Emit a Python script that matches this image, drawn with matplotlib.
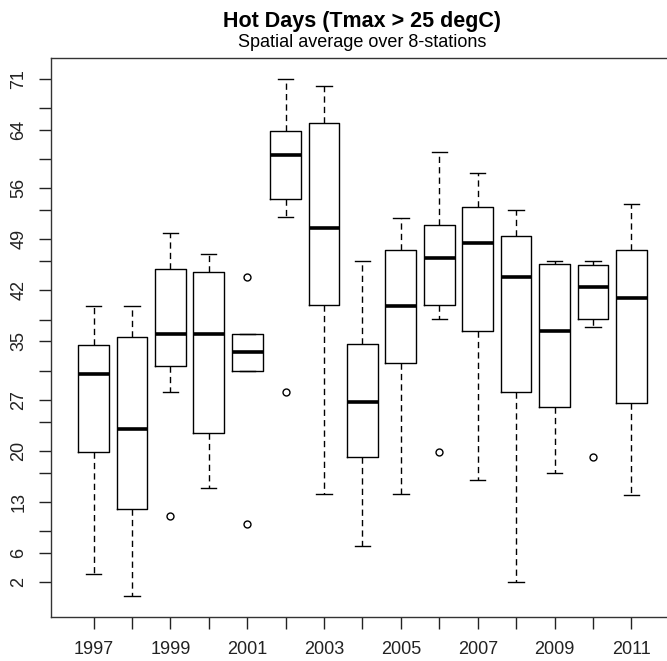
import matplotlib
matplotlib.use("Agg")
import matplotlib.pyplot as plt

plt.rcParams['font.family'] = ['Liberation Sans', 'DejaVu Sans']

# box statistics (days)
years = [1997, 1998, 1999, 2000, 2001, 2002, 2003, 2004, 2005, 2006, 2007, 2008, 2009, 2010, 2011]
whislo = [3.1, 0.1, 28.0, 14.9, 31.0, 52.1, 14.1, 7.0, 14.1, 38.1, 16.0, 2.0, 17.0, 37.0, 14.0]
q1 = [19.9, 12.0, 31.7, 22.5, 31.0, 54.6, 40.0, 19.1, 32.0, 40.0, 36.4, 28.1, 26.0, 38.1, 26.5]
med = [30.5, 23.0, 36.0, 36.0, 33.5, 60.6, 50.6, 26.7, 39.9, 46.4, 48.5, 43.9, 36.4, 42.5, 41.0]
q3 = [34.5, 35.6, 44.9, 44.5, 36.0, 63.9, 65.0, 34.6, 47.5, 51.0, 53.5, 49.5, 45.6, 45.5, 47.5]
whishi = [39.9, 39.9, 49.9, 47.0, 36.0, 71.0, 70.0, 46.0, 52.0, 61.0, 58.1, 53.0, 46.0, 46.0, 53.8]
outliers = {1999: [11.1], 2001: [43.9, 9.9], 2002: [28.1], 2006: [19.9], 2010: [19.1]}

# axis ticks as in the original (labels dropped where they overlapped)
ytick_vals = [2, 6, 9, 13, 17, 20, 24, 27, 31, 35, 38, 42, 46, 49, 53, 56, 60, 64, 67, 71]
ytick_shown = [2, 6, 13, 20, 27, 35, 42, 49, 56, 64, 71]
xlabel_shown = [1997, 1999, 2001, 2003, 2005, 2007, 2009, 2011]

stats = []
for i, yr in enumerate(years):
    stats.append({'whislo': whislo[i], 'q1': q1[i], 'med': med[i], 'q3': q3[i],
                  'whishi': whishi[i], 'fliers': outliers.get(yr, [])})

fig = plt.figure(figsize=(6.67, 6.61), dpi=100)
ax = fig.add_axes([0.0769, 0.0672, 0.933, 0.8446])

pos = list(range(1, len(years) + 1))
ax.bxp(stats, positions=pos, widths=0.8, capwidths=0.4, showfliers=True,
       boxprops=dict(color='black', linewidth=1.0),
       medianprops=dict(color='black', linewidth=2.6, solid_capstyle='butt'),
       whiskerprops=dict(color='black', linewidth=1.0, linestyle=(0, (4.5, 3))),
       capprops=dict(color='black', linewidth=1.0),
       flierprops=dict(marker='o', markersize=5, markerfacecolor='none',
                       markeredgecolor='black', markeredgewidth=1.0))

# R-style 4% padding
lo = min(whislo + [v for vs in outliers.values() for v in vs])
hi = max(whishi + [v for vs in outliers.values() for v in vs])
pad = 0.04 * (hi - lo)
ax.set_ylim(lo - pad, hi + pad)
ax.set_xlim(0.5 - 0.6, len(years) + 0.5 + 0.6)

ax.set_yticks(ytick_vals)
ax.set_yticklabels([str(v) if v in ytick_shown else '' for v in ytick_vals],
                   rotation=90, va='center', fontsize=13)
ax.set_xticks(pos)
ax.set_xticklabels([str(y) if y in xlabel_shown else '' for y in years], fontsize=13)
ax.tick_params(direction='out', length=8.4, width=1.0, pad=9, colors='#222222')

for s in ax.spines.values():
    s.set_linewidth(1.0)
    s.set_color('#333333')

fig.text(0.543, 0.968, 'Hot Days (Tmax > 25 degC)', ha='center', va='center',
         fontsize=15.5, fontweight='bold')
fig.text(0.543, 0.935, 'Spatial average over 8-stations', ha='center', va='center',
         fontsize=13)

fig.savefig('out.png', dpi=100)
